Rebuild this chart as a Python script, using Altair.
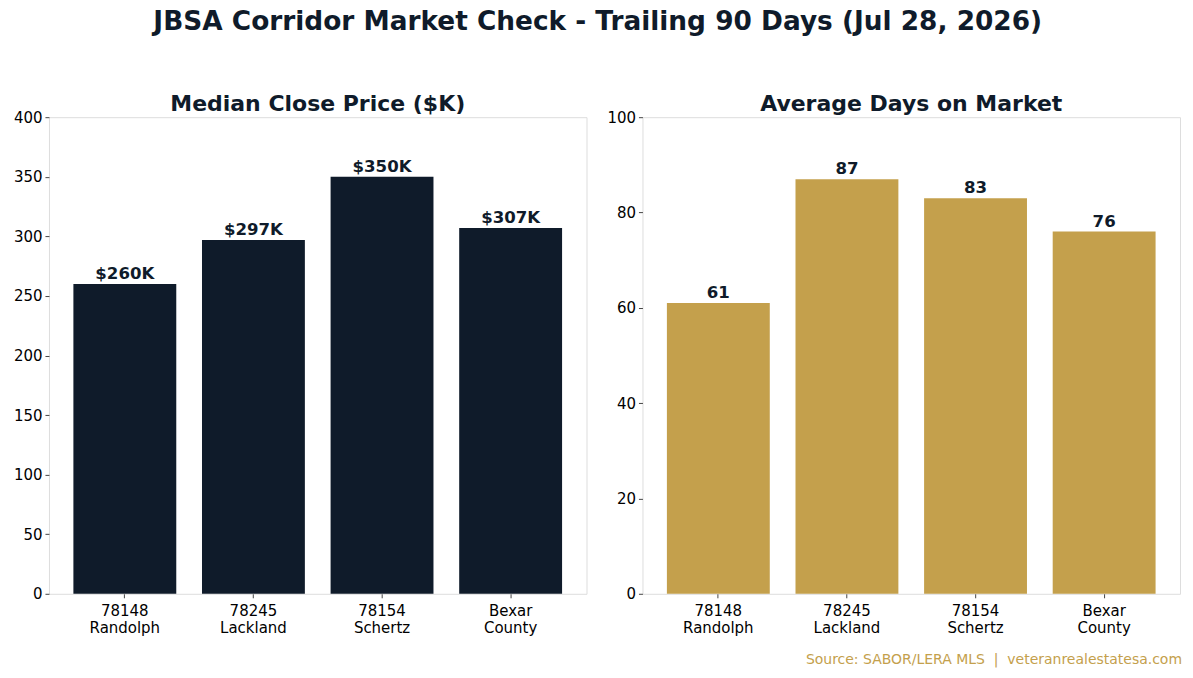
import altair as alt
import pandas as pd

codes = ["78148", "78245", "78154", "Bexar"]
names = ["Randolph", "Lackland", "Schertz", "County"]
median_price_k = [260, 297, 350, 307]
avg_dom = [61, 87, 83, 76]

NAVY = "#0f1b2a"
GOLD = "#c4a04c"
FONT = "DejaVu Sans"

cats = [f"{c}\n{n}" for c, n in zip(codes, names)]
df = pd.DataFrame({
    "area": cats,
    "price": median_price_k,
    "price_label": [f"${v}K" for v in median_price_k],
    "dom": avg_dom,
    "dom_label": [str(v) for v in avg_dom],
})

W, H = 538, 477
TICK_FS = 15

xenc = alt.X(
    "area:N", sort=None, title=None,
    scale=alt.Scale(paddingInner=0.2, paddingOuter=0.19),
    axis=alt.Axis(labelExpr="split(datum.value, '\\n')", labelAngle=0,
                  labelFontSize=TICK_FS, labelColor="#000000", labelFont=FONT,
                  domain=False, tickColor="#444444", tickSize=4, labelPadding=6,
                  labelLineHeight=17),
)


def panel(field, label_field, domain, step, color, title):
    base = alt.Chart(df).encode(x=xenc)
    bars = base.mark_bar(color=color).encode(
        y=alt.Y(f"{field}:Q", title=None,
                scale=alt.Scale(domain=domain, nice=False),
                axis=alt.Axis(values=list(range(domain[0], domain[1] + 1, step)),
                              grid=False, domain=False, tickColor="#444444",
                              tickSize=4, labelPadding=3, labelFontSize=TICK_FS,
                              labelColor="#000000", labelFont=FONT)),
    )
    labels = base.mark_text(baseline="bottom", dy=-2, fontSize=16.6,
                            fontWeight="bold", color=NAVY, font=FONT).encode(
        y=alt.Y(f"{field}:Q"), text=alt.Text(f"{label_field}:N"))
    return alt.layer(bars, labels).properties(
        width=W, height=H,
        title=alt.TitleParams(title, fontSize=22, fontWeight="bold",
                              color=NAVY, font=FONT, offset=5, dy=11),
    )


left = panel("price", "price_label", [0, 400], 50, NAVY, "Median Close Price ($K)")
right_main = panel("dom", "dom_label", [0, 100], 20, GOLD, "Average Days on Market")
source = alt.Chart(pd.DataFrame({"t": ["Source: SABOR/LERA MLS \u00a0|\u00a0 veteranrealestatesa.com"]})).mark_text(
    align="right", baseline="middle", fontSize=14, color=GOLD, font=FONT
).encode(x=alt.value(W + 2), y=alt.value(H + 66), text="t:N")
right = alt.layer(right_main, source)

chart = alt.hconcat(left, right, spacing=18).properties(
    title=alt.TitleParams("JBSA Corridor Market Check - Trailing 90 Days (Jul 28, 2026)",
                          fontSize=26.4, fontWeight="bold", color=NAVY, font=FONT,
                          anchor="middle", offset=57),
    padding={"left": 12, "top": 9, "right": 10, "bottom": 10},
).configure_view(stroke="#cccccc", strokeWidth=1).configure(background="white")

chart.save("out.html", embed_options={"renderer": "svg", "actions": False})
